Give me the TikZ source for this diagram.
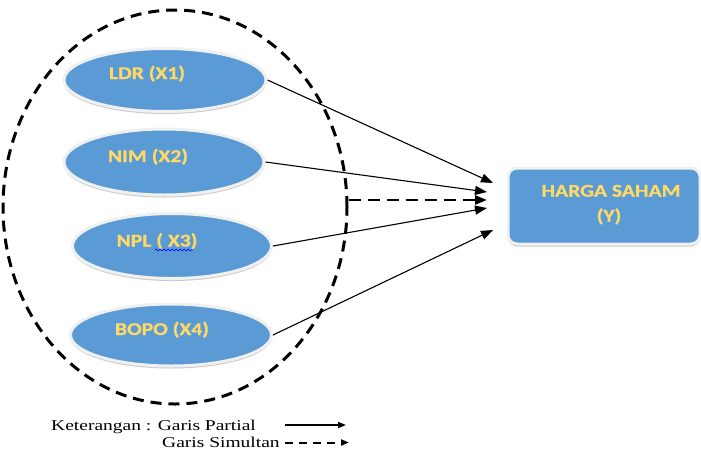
\documentclass[tikz,border=0pt]{standalone}
\usepackage{fontspec}
\newfontfamily\boxfont{Carlito}[FakeStretch=1.2,FakeBold=0.8]
\newfontfamily\legfont{Liberation Serif}[FakeStretch=1.3]
\usetikzlibrary{shapes.geometric,arrows.meta,decorations.pathmorphing,shadows}
\definecolor{bfill}{RGB}{91,155,213}
\definecolor{btext}{RGB}{255,217,102}
\definecolor{brim}{RGB}{240,240,240}
\begin{document}
\begin{tikzpicture}[x=1pt,y=-1pt,
  oval/.style={ellipse, fill=bfill, draw=brim, line width=3pt, inner sep=0pt,
    drop shadow={shadow xshift=0pt, shadow yshift=-2.5pt, fill=gray!70, opacity=0.6}},
  ybox/.style={rectangle, rounded corners=9pt, fill=bfill, draw=brim, line width=3pt, inner sep=0pt,
    drop shadow={shadow xshift=0pt, shadow yshift=-2.5pt, fill=gray!70, opacity=0.6}},
  lbl/.style={font=\boxfont\bfseries\fontsize{18}{22}\selectfont, text=btext, inner sep=0pt, anchor=base},
  legtxt/.style={font=\legfont\fontsize{15}{18}\selectfont, inner sep=0pt, anchor=base west},
  arr/.style={-{Triangle[length=12pt,width=9pt]}, line width=1.1pt},
  darr/.style={dash pattern=on 12pt off 7pt, line width=2.6pt, -{Triangle[length=12pt,width=9pt]}},
  larr/.style={-{Triangle[length=8pt,width=6pt]}, line width=1.6pt},
  ldarr/.style={dash pattern=on 8pt off 6pt, line width=2pt, -{Triangle[length=8pt,width=6pt]}},
  group/.style={ellipse, draw=black, dash pattern=on 11pt off 7pt, line width=3pt, inner sep=0pt}
]
\useasboundingbox (0,0) rectangle (701,451);

% dashed group ellipse
\node[group, minimum width=344pt, minimum height=394pt] (grp) at (175,207) {};

% variable ellipses
\node[oval, minimum width=202pt, minimum height=63pt] (e1) at (165,80) {};
\node[oval, minimum width=200pt, minimum height=66pt] (e2) at (164,162) {};
\node[oval, minimum width=199pt, minimum height=65pt] (e3) at (172,246) {};
\node[oval, minimum width=201pt, minimum height=62pt] (e4) at (171,335) {};

\node[lbl] (t1) at (147,79) {LDR (X1)};
\node[lbl] (t2) at (148,162) {NIM (X2)};
\node[lbl] (t3) at (157,246.5) {NPL ( X3)};
\node[lbl] (t4) at (162,335) {BOPO (X4)};
\draw[blue, line width=0.6pt, decorate, decoration={snake, amplitude=0.9pt, segment length=4pt}]
  (155,250) -- (193,250);

% dependent variable box
\node[ybox, minimum width=192pt, minimum height=76pt] (y) at (604,206) {};
\node[lbl] (ty1) at (611,196.7) {HARGA SAHAM};
\node[lbl] (ty2) at (609,221.7) {(Y)};

% arrow tips
\coordinate (p1) at (493,183);
\coordinate (p2) at (487,192);
\coordinate (pd) at (487,200);
\coordinate (p3) at (487,208);
\coordinate (p4) at (493,230);
\coordinate (ps) at (grp.east |- pd);

\draw[arr] (e1.east) -- (p1);
\draw[arr] (e2.east) -- (p2);
\draw[arr] (e3.east) -- (p3);
\draw[arr] (e4.east) -- (p4);
\draw[darr] (ps) -- (pd);

% legend
\node[legtxt] (k1) at (51,430.5) {Keterangan : Garis Partial};
\node[legtxt] (k2) at (162,447) {Garis Simultan};
\coordinate (la1) at (285,425);
\coordinate (la2) at (346,425);
\coordinate (lb1) at (285,442.5);
\coordinate (lb2) at (349,442.5);
\draw[larr] (la1) -- (la2);
\draw[ldarr] (lb1) -- (lb2);
\end{tikzpicture}
\end{document}
